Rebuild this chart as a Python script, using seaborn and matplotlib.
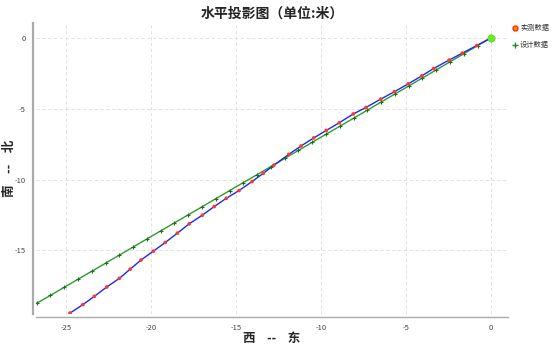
import matplotlib
matplotlib.use("Agg")
import matplotlib.pyplot as plt
import seaborn as sns
import pandas as pd
from matplotlib.lines import Line2D

# measured (实测数据)
meas_x = [-24.75, -23.99, -23.32, -22.59, -21.85, -21.21, -20.58, -19.85, -19.15, -18.44,
          -17.74, -16.97, -16.27, -15.56, -14.81, -14.05, -13.39, -12.77, -11.89, -11.17,
          -10.42, -9.68, -8.92, -8.10, -7.35, -6.48, -5.68, -4.86, -4.07, -3.37,
          -2.47, -1.69, -0.84, 0.0]
meas_y = [-19.42, -18.82, -18.24, -17.58, -16.97, -16.32, -15.68, -15.05, -14.44, -13.78,
          -13.12, -12.51, -11.90, -11.32, -10.77, -10.14, -9.56, -8.99, -8.22, -7.63,
          -7.06, -6.53, -5.99, -5.37, -4.91, -4.32, -3.80, -3.24, -2.68, -2.16,
          -1.57, -1.08, -0.54, 0.0]

# design (设计数据)
des_x = [-26.72, -25.90, -25.09, -24.28, -23.47, -22.66, -21.85, -21.04, -20.23, -19.42,
         -18.61, -17.80, -16.99, -16.18, -15.37, -14.56, -13.75, -12.94, -12.13, -11.32,
         -10.51, -9.70, -8.89, -8.08, -7.27, -6.46, -5.65, -4.84, -4.03, -3.22,
         -2.41, -1.60, -0.79, 0.0]
des_y = [-18.74, -18.17, -17.60, -17.03, -16.47, -15.90, -15.33, -14.76, -14.19, -13.62,
         -13.05, -12.49, -11.92, -11.35, -10.78, -10.21, -9.65, -9.08, -8.51, -7.94,
         -7.37, -6.80, -6.24, -5.67, -5.10, -4.53, -3.96, -3.40, -2.83, -2.26,
         -1.69, -1.12, -0.55, 0.0]

origin_x = [0.0]
origin_y = [0.0]

title = "水平投影图（单位:米）"
xlabel = "西    --    东"
ylabel = "南    --    北"
labels = ["实测数据", "设计数据"]
xticks = [-25, -20, -15, -10, -5, 0]
yticks = [0, -5, -10, -15]

sns.set_style("white")
plt.rcParams['font.family'] = ['Noto Sans CJK SC', 'DejaVu Sans']
plt.rcParams['axes.unicode_minus'] = False

meas = pd.DataFrame({"x": meas_x, "y": meas_y})
des = pd.DataFrame({"x": des_x, "y": des_y})

fig = plt.figure(figsize=(5.53, 3.46), dpi=100)
ax = fig.add_axes([36/553, 1-313.5/346, (508-36)/553, (313.5-23)/346])

sns.lineplot(data=des, x="x", y="y", sort=False, color="#2e9a2e", lw=1.0, ax=ax, legend=False)
sns.scatterplot(data=des, x="x", y="y", marker="+", color="#1f6e1f", s=8, linewidth=0.8, ax=ax, legend=False, zorder=3)
sns.lineplot(data=meas, x="x", y="y", sort=False, color="#2222ff", lw=1.0, ax=ax, legend=False)
sns.scatterplot(data=meas, x="x", y="y", marker="o", color="#ff3b1f", edgecolor="none", s=7, ax=ax, legend=False, zorder=4)
sns.scatterplot(x=origin_x, y=origin_y, marker="o", color="#66ee22", edgecolor="#44cc11", s=28, ax=ax, legend=False, zorder=5)

ax.set_xlim(-26.75, 1.0)
ax.set_ylim(-19.45, 1.05)
ax.set_xticks(xticks)
ax.set_yticks(yticks)
ax.set_xticklabels([str(t) for t in xticks])
ax.set_yticklabels([str(t) for t in yticks])
ax.set_xticks(range(-26, 1), minor=True)
ax.set_yticks(range(-19, 2), minor=True)
ax.tick_params(axis='both', which='both', direction='out', length=2.5, width=0.8,
               color='#888888', labelsize=5.5, labelcolor='#444444', pad=2)
ax.tick_params(axis='both', which='major', length=3)
ax.grid(True, which='major', linestyle=(0, (4, 3)), color='#dddddd', lw=0.6)

for s in ['top', 'right']:
    ax.spines[s].set_visible(False)
ax.spines['left'].set_position(('outward', 2.2))
ax.spines['bottom'].set_position(('outward', 2.2))
ax.spines['left'].set_color('#aaaaaa')
ax.spines['left'].set_linewidth(1.6)
ax.spines['bottom'].set_color('#aaaaaa')
ax.spines['bottom'].set_linewidth(1.0)

ax.set_xlabel(xlabel, fontsize=9, fontweight='bold')
ax.set_ylabel(ylabel, fontsize=9, fontweight='bold')
ax.xaxis.set_label_coords(0.5, (313.5 - 332) / 290.5)
ax.yaxis.set_label_coords((16 - 36) / 472, 0.5)
fig.suptitle(title, fontsize=10, fontweight='bold', y=0.98, x=0.492)

handles = [
    Line2D([], [], marker='o', ls='none', markerfacecolor='#ff9900', markeredgecolor='#ff2a00',
           markersize=3.5, markeredgewidth=1.0),
    Line2D([], [], marker='+', ls='none', color='#1f8a1f', markersize=4, markeredgewidth=1.0),
]
leg = ax.legend(handles, labels, loc='upper left', bbox_to_anchor=(1.005, 1.005),
                frameon=False, fontsize=5.2, handlelength=0.6, handletextpad=0.35,
                labelspacing=1.2, borderaxespad=0)
for t in leg.get_texts():
    t.set_color('#333333')

fig.savefig("out.png", dpi=100)
